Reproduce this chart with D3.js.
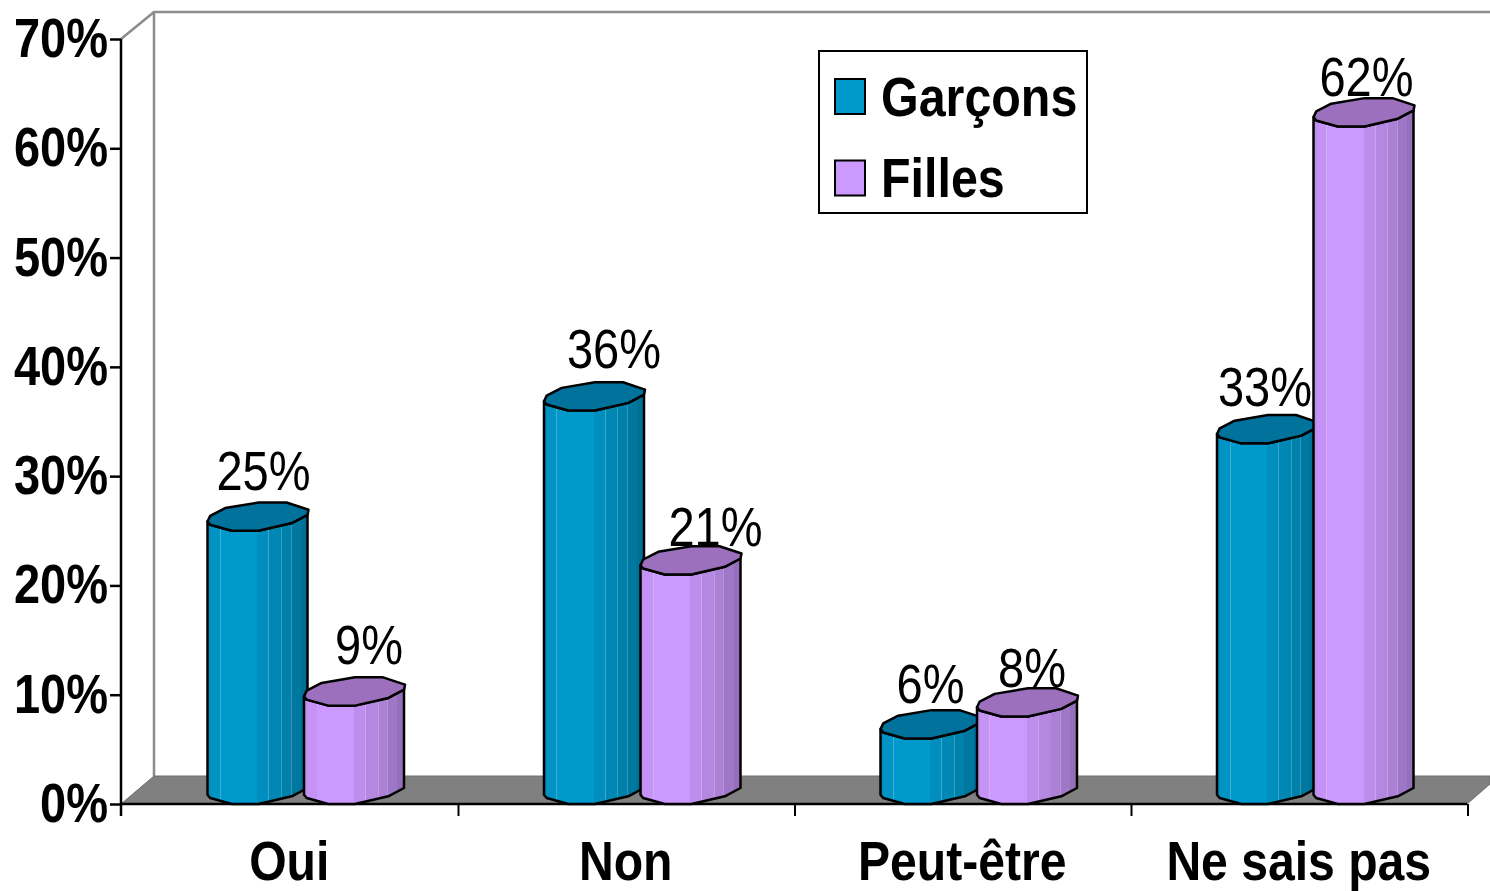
<!DOCTYPE html>
<html>
<head>
<meta charset="utf-8">
<script src="https://cdn.jsdelivr.net/npm/d3@7"></script>
<style>
  html, body { margin: 0; padding: 0; background: #fff; }
  svg { display: block; }
  text { font-family: "Liberation Sans", Arial, sans-serif; fill: #000; }
</style>
</head>
<body>
<div id="my_dataviz"></div>
<script>
// chart data
var categories = ["Oui", "Non", "Peut-être", "Ne sais pas"];
var series = ["Garçons", "Filles"];
var garcons = [25, 36, 6, 33];
var filles = [9, 21, 8, 62];
var yTicks = [0, 10, 20, 30, 40, 50, 60, 70];

var width = 1490, height = 891;
var left = 121, right = 1467, bottom = 804, top70 = 39;
var depthX = 33, depthY = 28;
var barW = 100, barStep = 96.5, barOffset = 86.5;

var colors = {"Garçons": "#0099cc", "Filles": "#cc99ff"};
var topColors = {"Garçons": "#00729b", "Filles": "#9c70bd"};

var svg = d3.select("#my_dataviz")
  .append("svg")
    .attr("width", width)
    .attr("height", height);

var x = d3.scaleBand().domain(categories).range([left, right]);
var y = d3.scaleLinear().domain([0, 70]).range([bottom, top70]);
var xBar = d3.scalePoint().domain(series).range([barOffset, barOffset + barStep]);

// strips of the cylinder side, as [start, darkening, whitening]
var strips = [
  [0, 0.93, 0], [0.03, 0.96, 0], [0.125, 0.96, 0.25], [0.135, 1, 0],
  [0.23, 1, 0], [0.5, 0.93, 0], [0.61, 0.9, 0.25], [0.62, 0.88, 0],
  [0.735, 0.85, 0.22], [0.745, 0.84, 0], [0.83, 0.8, 0.2], [0.84, 0.78, 0],
  [0.93, 0.73, 0]
];
var defs = svg.append("defs");
series.forEach(function(s, i) {
  var grad = defs.append("linearGradient").attr("id", "side" + i);
  strips.forEach(function(st, j) {
    var c = d3.rgb(colors[s]);
    var col = d3.interpolateRgb(d3.rgb(c.r * st[1], c.g * st[1], c.b * st[1]), "#fff")(st[2]);
    var end = j < strips.length - 1 ? strips[j + 1][0] : 1;
    grad.append("stop").attr("offset", st[0]).attr("stop-color", col);
    grad.append("stop").attr("offset", end).attr("stop-color", col);
  });
});

// back wall and floor
svg.append("path")
  .attr("d", d3.line()([[left, y(70)], [left + depthX, y(70) - depthY + 1], [width, y(70) - depthY + 1]]))
  .attr("fill", "none").attr("stroke", "#8c8c8c").attr("stroke-width", 2.5);
svg.append("line")
  .attr("x1", left + depthX).attr("x2", left + depthX)
  .attr("y1", y(70) - depthY).attr("y2", bottom - depthY)
  .attr("stroke", "#8c8c8c").attr("stroke-width", 2.5);
svg.append("path")
  .attr("d", d3.line()([[left, bottom], [left + depthX, bottom - depthY], [width, bottom - depthY], [width, bottom - depthY + 8], [right, bottom]]) + "Z")
  .attr("fill", "#808080").attr("stroke", "#6e6e6e").attr("stroke-width", 1);

// axes
var yAxis = svg.append("g")
  .attr("transform", "translate(" + left + ",0)")
  .call(d3.axisLeft(y).tickValues(yTicks).tickSize(11).tickSizeOuter(0).tickFormat(function() { return ""; }));
var xAxis = svg.append("g")
  .attr("transform", "translate(0," + bottom + ")")
  .call(d3.axisBottom(x).tickSize(0).tickFormat(function() { return ""; }));
yAxis.select(".domain").attr("d", "M0," + y(70) + "V" + (bottom + 12));
xAxis.select(".domain").attr("d", "M" + left + ",0H" + right);
yAxis.selectAll("line, .domain").attr("stroke", "#000").attr("stroke-width", 2.5);
xAxis.selectAll(".domain").attr("stroke", "#000").attr("stroke-width", 2.5);
svg.append("g").selectAll("line")
  .data(x.domain().slice(1).map(x).concat([right]))
  .enter().append("line")
    .attr("x1", function(d) { return d + 1; }).attr("x2", function(d) { return d + 1; })
    .attr("y1", bottom).attr("y2", bottom + 12)
    .attr("stroke", "#000").attr("stroke-width", 2);

// squeezed text, the original is narrower than the font
function label(g, txt, tx, ty, anchor, weight, sx) {
  g.append("text")
    .attr("transform", "translate(" + tx + "," + ty + ") scale(" + sx + ",1)")
    .attr("text-anchor", anchor)
    .attr("font-size", 55)
    .attr("font-weight", weight)
    .text(txt);
}

yTicks.forEach(function(t) {
  label(svg, t + "%", 108, y(t) + 18, "end", "bold", 0.855);
});
categories.forEach(function(c) {
  label(svg, c, x(c) + x.bandwidth() / 2, 880, "middle", "bold", 0.875);
});

// top lid of a cylinder, measured relative to bar width and to the value position
var lidTop = [[0, -9.3], [2.7, -15], [17.7, -22.7], [51, -28.3], [79, -28.3], [101, -21]];
var lidFront = [[100, -16], [84.3, -7.7], [51, 0], [24.3, 0], [2.7, -6], [0, -9.3]];

function drawBar(cat, s, i, v) {
  var bx = x(cat) + xBar(s);
  var by = y(v);
  var pt = function(p, base) { return [bx + p[0] * barW / 100, base + p[1]]; };
  var line = d3.line();
  var g = svg.append("g");
  // side, down to the bottom curve
  var frontTop = [[100, -21]].concat(lidFront).map(function(p) { return pt(p, by); });
  var frontBottom = lidFront.map(function(p) { return pt(p, bottom); });
  g.append("path")
    .attr("d", line(frontTop.concat(frontBottom.reverse())) + "Z")
    .attr("fill", "url(#side" + i + ")")
    .attr("stroke", "#000").attr("stroke-width", 2.5).attr("stroke-linejoin", "round");
  // lid
  g.append("path")
    .attr("d", line(lidTop.concat(lidFront).map(function(p) { return pt(p, by); })) + "Z")
    .attr("fill", topColors[s])
    .attr("stroke", "#000").attr("stroke-width", 2.5).attr("stroke-linejoin", "round");
}

var values = {"Garçons": garcons, "Filles": filles};
categories.forEach(function(c, k) {
  series.forEach(function(s, i) {
    drawBar(c, s, i, values[s][k]);
  });
});

// value labels, placed by hand in the original
var labelShift = {
  "Garçons": [[6, -41], [20, -43], [0, -35], [-2, -37]],
  "Filles": [[15, -42], [25, -29], [5, -30], [3, -30]]
};
categories.forEach(function(c, k) {
  series.forEach(function(s) {
    var sh = labelShift[s][k];
    label(svg, values[s][k] + "%", x(c) + xBar(s) + barW / 2 + sh[0], y(values[s][k]) + sh[1], "middle", "normal", 0.855);
  });
});

// legend
var legend = svg.append("g");
legend.append("rect")
  .attr("x", 819).attr("y", 51).attr("width", 268).attr("height", 162)
  .attr("fill", "#fff").attr("stroke", "#000").attr("stroke-width", 2);
series.forEach(function(s, i) {
  legend.append("rect")
    .attr("x", 835).attr("y", 79 + i * 81.5).attr("width", 30).attr("height", 35)
    .attr("fill", colors[s]).attr("stroke", "#000").attr("stroke-width", 2);
  label(legend, s, 881, 115.5 + i * 81, "start", "bold", 0.88);
});
</script>
</body>
</html>
